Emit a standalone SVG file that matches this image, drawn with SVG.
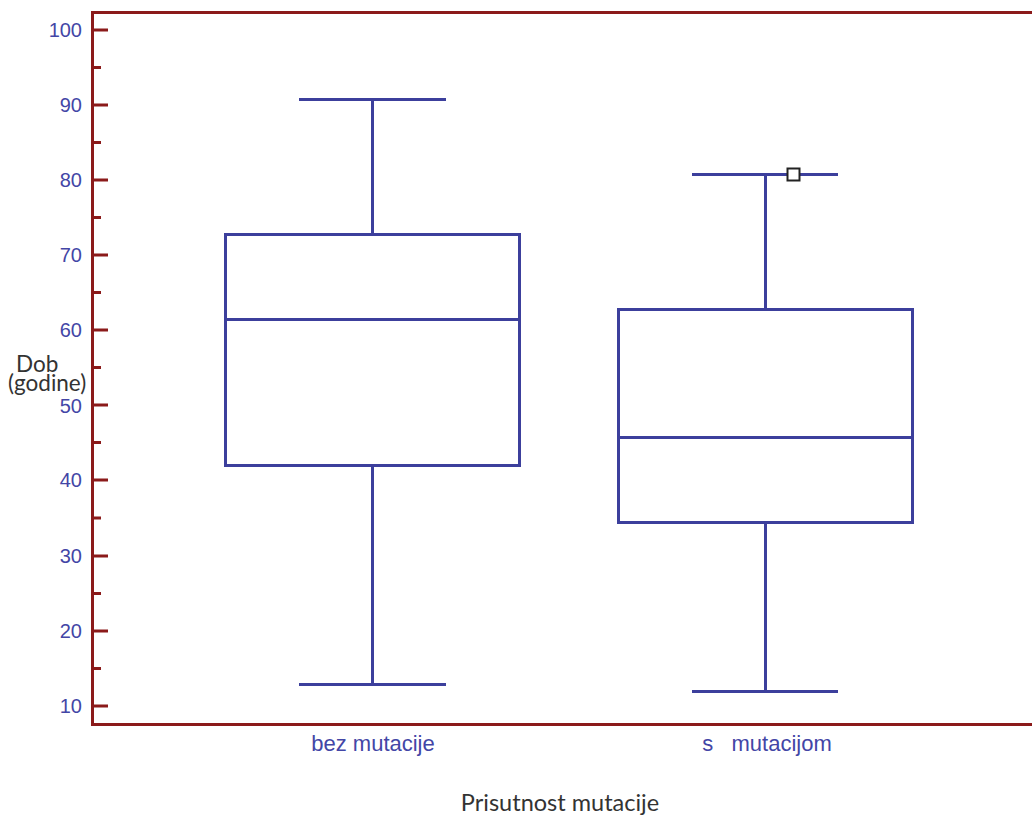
<svg xmlns="http://www.w3.org/2000/svg" width="1032" height="821" viewBox="0 0 1032 821">
<style>
.ax{stroke:#8b1a1a;stroke-width:3;fill:none}
.bx{stroke:#3c3f9c;stroke-width:3;fill:none}
.tl{font-family:"Liberation Sans",Arial,sans-serif;font-size:20px;fill:#4346a6;text-anchor:end}
.cl{font-family:"Liberation Sans",Arial,sans-serif;font-size:22px;fill:#4346a6;text-anchor:middle}
.tt{font-family:Lato,"Liberation Sans",sans-serif;font-size:23.5px;fill:#333333}
.yt{font-family:Lato,"Liberation Sans",sans-serif;font-size:22.5px;fill:#333333}
</style>
<rect width="1032" height="821" fill="#ffffff"/>
<g id="axes">
<path class="ax" d="M1032 12.5H92.5V724.5H1032"/>
<g id="ticks" class="ax">
<path d="M93 30H108M93 105H108M93 180H108M93 255H108M93 330H108M93 405H108M93 480H108M93 556H108M93 631H108M93 706H108"/>
<path d="M93 67.5H101M93 142.5H101M93 217.5H101M93 292.5H101M93 367.5H101M93 442.5H101M93 518H101M93 593.5H101M93 668.5H101"/>
</g>
<g id="ticklabels" class="tl">
<text x="82" y="37">100</text>
<text x="82" y="112">90</text>
<text x="82" y="187">80</text>
<text x="82" y="262">70</text>
<text x="82" y="337">60</text>
<text x="82" y="413">50</text>
<text x="82" y="487">40</text>
<text x="82" y="563">30</text>
<text x="82" y="638">20</text>
<text x="82" y="713">10</text>
</g>
<g id="ytitle" class="yt">
<text x="16" y="372">Dob</text>
<text x="8" y="391">(godine)</text>
</g>
<g id="catlabels" class="cl">
<text x="373" y="751">bez mutacije</text>
<text x="767" y="751" xml:space="preserve">s   mutacijom</text>
</g>
<text id="xtitle" class="tt" x="560" y="811" text-anchor="middle">Prisutnost mutacije</text>
</g>
<g id="box-bez">
<rect class="bx" x="225.5" y="234.5" width="294" height="231"/>
<path class="bx" d="M225.5 319.5H519.5M372.5 234.5V99.5M299 99.5H446M372.5 465.5V684.5M299 684.5H446"/>
</g>
<g id="box-s">
<rect class="bx" x="618.5" y="309.5" width="294" height="213"/>
<path class="bx" d="M618.5 437.5H912.5M765.5 309.5V174.5M692 174.5H838M765.5 522.5V691.5M692 691.5H838"/>
<rect id="outlier" x="787.5" y="168.5" width="12" height="12" fill="#ffffff" stroke="#222222" stroke-width="2"/>
</g>
</svg>
